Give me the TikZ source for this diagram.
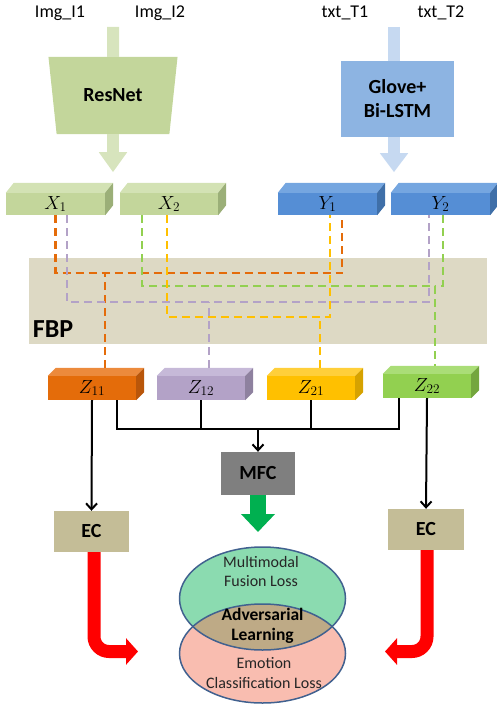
\RequirePackage{fix-cm}
\documentclass[tikz,border=0pt]{standalone}
\usepackage{fontspec}
\setmainfont{Carlito}
\usetikzlibrary{arrows.meta,shapes.geometric}

\definecolor{resgreen}{HTML}{C3D69B}
\definecolor{palegreen}{HTML}{D7E4BD}
\definecolor{gloveblue}{HTML}{8DB4E2}
\definecolor{paleblue}{HTML}{C6D9F1}
\definecolor{xtop}{HTML}{D3E2B4}
\definecolor{xside}{HTML}{9BAF78}
\definecolor{yfront}{HTML}{558ED5}
\definecolor{ytop}{HTML}{75A6E0}
\definecolor{yside}{HTML}{3F6FA8}
\definecolor{fbpbg}{HTML}{DDD9C4}
\definecolor{zorange}{HTML}{E46C0A}
\definecolor{zorangetop}{HTML}{EC8A3C}
\definecolor{zorangeside}{HTML}{B9560A}
\definecolor{zpurple}{HTML}{B3A2C7}
\definecolor{zpurpletop}{HTML}{C6B9D8}
\definecolor{zpurpleside}{HTML}{8E819F}
\definecolor{zyellow}{HTML}{FFC000}
\definecolor{zyellowtop}{HTML}{FFCF3A}
\definecolor{zyellowside}{HTML}{D6A200}
\definecolor{zgreen}{HTML}{92D050}
\definecolor{zgreentop}{HTML}{AADD77}
\definecolor{zgreenside}{HTML}{74A63E}
\definecolor{mfcgray}{HTML}{7F7F7F}
\definecolor{ecbrown}{HTML}{C4BD97}
\definecolor{arrowgreen}{HTML}{00B050}
\definecolor{lossgreen}{HTML}{8BDBB0}
\definecolor{losspink}{HTML}{F9BDB0}
\definecolor{losstan}{HTML}{BEAA86}
\definecolor{lossline}{HTML}{41618F}

\begin{document}
\begin{tikzpicture}[x=1pt,y=-1pt,
  cube/.style={rectangle, inner sep=0, minimum height=22, font=\fontsize{19}{21}\selectfont},
  zcube/.style={cube, minimum width=88, minimum height=24},
  block/.style={rectangle, align=center, inner sep=0, font=\fontsize{20}{24}\selectfont\bfseries},
  toplabel/.style={font=\fontsize{18}{21}\selectfont},
  dashline/.style={line width=2.4pt, dash pattern=on 8pt off 5pt},
  bus/.style={line width=2pt},
  busarrow/.style={bus, -{Straight Barb[length=6pt,width=11pt]}},
  feedbar/.style={line width=12pt},
  lossfont/.style={align=center, text=black!85, font=\fontsize{16}{19.5}\selectfont}]
\useasboundingbox (0,0) rectangle (496,706);

% inputs
\node (img1) [toplabel] at (60,13) {Img\_I1};
\node (img2) [toplabel] at (160,13) {Img\_I2};
\node (txt1) [toplabel] at (345,13) {txt\_T1};
\node (txt2) [toplabel] at (441,13) {txt\_T2};

\node (resnet) [trapezium, shape border rotate=180, trapezium left angle=76.5, trapezium right angle=76.5, trapezium stretches=true, minimum width=130, minimum height=77, fill=resgreen, font=\fontsize{20}{24}\selectfont\bfseries] at (113,95.5) {ResNet};
\node (glove) [block, fill=gloveblue, minimum width=113, minimum height=76] at (397.5,99) {Glove+\\Bi-LSTM};

\draw[feedbar, palegreen] (113,27) -- (resnet.north);
\draw[feedbar, palegreen, -{Triangle[length=20pt,width=27pt]}] (resnet.south) -- ++(0,38);
\draw[feedbar, paleblue] (394,27) -- ([xshift=-3.5]glove.north);
\draw[feedbar, paleblue, -{Triangle[length=19pt,width=27pt]}] ([xshift=-3.5]glove.south) -- ++(0,35);

% features
\node (x1) [cube, fill=resgreen, minimum width=99] at (55.5,204) {$X_1$};
\node (x2) [cube, fill=resgreen, minimum width=98] at (169,204) {$X_2$};
\node (y1) [cube, fill=yfront, minimum width=99] at (327.5,204) {$Y_1$};
\node (y2) [cube, fill=yfront, minimum width=99] at (440.5,204) {$Y_2$};

\foreach \n/\t/\s in {x1/xtop/xside, x2/xtop/xside, y1/ytop/yside, y2/ytop/yside} {
  \fill[\t] (\n.north west) -- ++(8,-10) -- ([shift={(8,-10)}]\n.north east) -- (\n.north east) -- cycle;
  \fill[\s] (\n.north east) -- ++(8,-10) -- ([shift={(8,-10)}]\n.south east) -- (\n.south east) -- cycle;
}

% FBP
\fill[fbpbg] (29,258) rectangle (487,344);
\node (fbp) [font=\fontsize{26}{30}\selectfont\bfseries] at (53,329) {FBP};

% fused features
\node (z11) [zcube, fill=zorange] at (92,388) {$Z_{11}$};
\node (z12) [zcube, fill=zpurple] at (201,388) {$Z_{12}$};
\node (z21) [zcube, fill=zyellow] at (311,388) {$Z_{21}$};
\node (z22) [zcube, fill=zgreen] at (427,386) {$Z_{22}$};

\foreach \n/\c in {z11/zorange, z12/zpurple, z21/zyellow, z22/zgreen} {
  \fill[\c top] (\n.north west) -- ++(8,-8) -- ([shift={(8,-8)}]\n.north east) -- (\n.north east) -- cycle;
  \fill[\c side] (\n.north east) -- ++(8,-8) -- ([shift={(8,-8)}]\n.south east) -- (\n.south east) -- cycle;
}

% bilinear pairs
\draw[dashline, zorange] (x1.south) -- ++(0,58) -| ([xshift=14.5]y1.south);
\draw[dashline, zorange] ([shift={(13,-8)}]z11.north) -- ++(0,-95);
\draw[dashline, zpurple] ([xshift=11.5]x1.south) -- ++(0,87) -| ([xshift=-11.5]y2.south);
\draw[dashline, zpurple] ([shift={(8,-8)}]z12.north) -- ++(0,-66);
\draw[dashline, zgreen] ([xshift=-27]x2.south) -- ++(0,71) -| ([shift={(8,-8)}]z22.north);
\draw[dashline, zgreen] ([xshift=2.5]y2.south) -- ++(0,71) -- ++(-8,0);
\draw[dashline, zyellow] ([xshift=-2]x2.south) -- ++(0,102) -| ([xshift=2.5]y1.south);
\draw[dashline, zyellow] ([shift={(9,-8)}]z21.north) -- ++(0,-51);

% classifiers
\node (mfc) [block, fill=mfcgray, minimum width=74, minimum height=43] at (258,473.5) {MFC};
\node (ec1) [block, fill=ecbrown, minimum width=75, minimum height=41] at (91.5,531.5) {EC};
\node (ec2) [block, fill=ecbrown, minimum width=76, minimum height=41] at (426,529.5) {EC};

\coordinate (busmid) at (258,429);
\draw[bus] ([xshift=25]z11.south) -- ++(0,29) -| ([xshift=-28]z22.south);
\draw[bus] (z12.south) -- ++(0,29);
\draw[bus] (z21.south) -- ++(0,29);
\draw[busarrow] (busmid) -- (mfc);
\draw[busarrow] (z11.south) -- (ec1.north);
\draw[busarrow] (z22.south) -- (ec2.north);

% losses
\fill[lossgreen] (262.5,598.5) ellipse [x radius=83, y radius=51.5];
\fill[losspink] (262.5,653.5) ellipse [x radius=83, y radius=49.5];
\begin{scope}
  \clip (262.5,598.5) ellipse [x radius=83, y radius=51.5];
  \fill[losstan] (262.5,653.5) ellipse [x radius=83, y radius=49.5];
\end{scope}
\draw[lossline, line width=1.5pt] (262.5,598.5) ellipse [x radius=83, y radius=51.5];
\draw[lossline, line width=1.5pt] (262.5,653.5) ellipse [x radius=83, y radius=49.5];

\node (fusion) [lossfont] at (261,571.5) {Multimodal\\Fusion Loss};
\node (adv) [lossfont, text=black, font=\fontsize{17.5}{20}\selectfont\bfseries] at (262.5,626) {Adversarial\\Learning};
\node (emo) [lossfont] at (264,673) {Emotion\\Classification Loss};

\coordinate (fusetip) at (258,532);
\coordinate (lefttip) at (138,651.5);
\coordinate (righttip) at (385,651.5);
\draw[arrowgreen, line width=16pt, -{Triangle[length=18pt,width=33pt]}] (mfc.south) -- (fusetip);
\draw[red, line width=13pt, rounded corners=15pt, -{Triangle[length=12pt,width=26pt]}] ([xshift=2.5]ec1.south) |- (lefttip);
\draw[red, line width=13pt, rounded corners=15pt, -{Triangle[length=12pt,width=26pt]}] ([xshift=1]ec2.south) |- (righttip);

\end{tikzpicture}
\end{document}
